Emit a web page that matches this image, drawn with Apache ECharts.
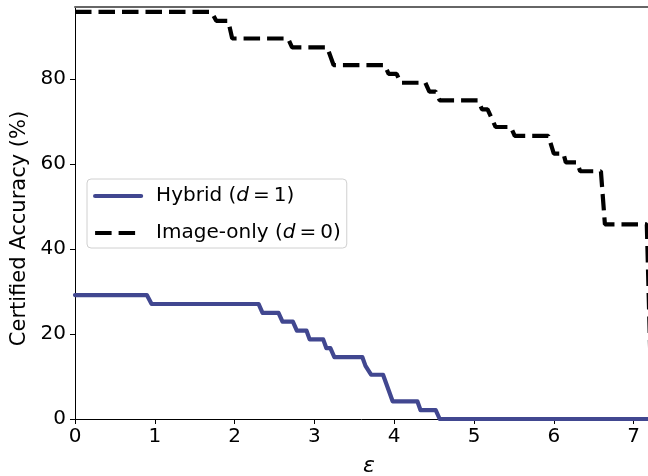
<!DOCTYPE html>
<html>
<head>
<meta charset="utf-8">
<script src="https://cdn.jsdelivr.net/npm/echarts@6/dist/echarts.min.js"></script>
<style>html,body{margin:0;padding:0;background:#fff;}#chart{width:648px;height:476px;}</style>
</head>
<body>
<div id="chart"></div>
<script>
// ---- data ----
const seriesNames = ['Hybrid', 'Image-only'];
const seriesDepth = [1, 0];
const xTicks = [0, 1, 2, 3, 4, 5, 6, 7];
const yTicks = [0, 20, 40, 60, 80];

const hybridEps = [0, 0.90, 0.96, 2.30, 2.35, 2.55, 2.60, 2.73, 2.78, 2.90, 2.94, 3.11, 3.15, 3.20, 3.25, 3.60, 3.64, 3.66, 3.71, 3.86, 3.98, 4.29, 4.33, 4.52, 4.57, 7.40];
const hybridAcc = [29.17, 29.17, 27.08, 27.08, 25.00, 25.00, 22.92, 22.92, 20.83, 20.83, 18.75, 18.75, 16.67, 16.67, 14.58, 14.58, 12.50, 12.50, 10.42, 10.42, 4.17, 4.17, 2.08, 2.08, 0, 0];

const imageEps = [0, 1.71, 1.77, 1.92, 1.97, 2.67, 2.72, 3.16, 3.24, 3.88, 3.93, 4.03, 4.08, 4.39, 4.44, 4.52, 4.57, 5.05, 5.10, 5.17, 5.27, 5.46, 5.51, 5.93, 6.00, 6.12, 6.15, 6.29, 6.33, 6.59, 6.64, 7.165, 7.23];
const imageAcc = [95.83, 95.83, 93.75, 93.75, 89.58, 89.58, 87.50, 87.50, 83.33, 83.33, 81.25, 81.25, 79.17, 79.17, 77.08, 77.08, 75.00, 75.00, 72.92, 72.92, 68.75, 68.75, 66.67, 66.67, 62.50, 62.50, 60.42, 60.42, 58.33, 58.33, 45.83, 45.83, 0];

const xMin = 0, xMax = 7.18, yMin = 0, yMax = 97;
// --------------

const zip = (a, b) => a.map((v, i) => [v, b[i]]);
const FONT = 'DejaVu Sans';
const chart = echarts.init(document.getElementById('chart'), null, {renderer: 'canvas'});
const legendLabel = {};
seriesNames.forEach((n, i) => { legendLabel[n] = n + ' ({i|d}\u2009=\u2009' + seriesDepth[i] + ')'; });

chart.setOption({
  animation: false,
  backgroundColor: '#fff',
  textStyle: {fontFamily: FONT},
  grid: {left: 75, top: 7, right: 0, bottom: 57, outerBoundsMode: 'none', containLabel: false},
  legend: {
    left: 87, top: 179, orient: 'vertical',
    backgroundColor: '#fff',
    borderColor: '#d0d0d0', borderWidth: 1, borderRadius: 4,
    padding: [6, 6, 4, 6],
    itemWidth: 46, itemHeight: 22, itemGap: 15,
    itemStyle: {opacity: 0},
    lineStyle: {width: 4.2},
    formatter: n => legendLabel[n],
    textStyle: {
      fontFamily: FONT, fontSize: 20, color: '#000', lineHeight: 22, padding: [0, 0, 0, 10],
      rich: {i: {fontFamily: FONT, fontStyle: 'italic', fontSize: 20, color: '#000', lineHeight: 22}}
    },
    data: seriesNames
  },
  xAxis: [{
    type: 'value', min: xMin, max: xMax, position: 'bottom',
    name: 'ε', nameLocation: 'middle', nameGap: 36,
    nameTextStyle: {fontFamily: FONT, fontSize: 22, fontStyle: 'italic', color: '#000', padding: [0, 0, 0, 15]},
    axisLine: {show: true, lineStyle: {color: '#000', width: 1}},
    axisTick: {show: true, length: 5, lineStyle: {color: '#000', width: 1}, customValues: xTicks},
    axisLabel: {fontFamily: FONT, fontSize: 20, color: '#000', margin: 8, customValues: xTicks},
    splitLine: {show: false}
  }, {
    type: 'value', min: xMin, max: xMax, position: 'top',
    axisLine: {show: true, lineStyle: {color: '#666', width: 2}},
    axisTick: {show: false}, axisLabel: {show: false}, splitLine: {show: false}
  }],
  yAxis: {
    type: 'value', min: yMin, max: yMax,
    name: 'Certified Accuracy (%)', nameLocation: 'middle', nameGap: 44,
    nameTextStyle: {fontFamily: FONT, fontSize: 21, color: '#000', padding: [0, 31, 0, 0]},
    axisLine: {show: true, lineStyle: {color: '#000', width: 1}},
    axisTick: {show: true, length: 5, lineStyle: {color: '#000', width: 1}, customValues: yTicks},
    axisLabel: {fontFamily: FONT, fontSize: 20, color: '#000', margin: 9, customValues: yTicks},
    splitLine: {show: false}
  },
  series: [{
    name: seriesNames[0], type: 'line', data: zip(hybridEps, hybridAcc),
    symbol: 'none', lineStyle: {color: '#414790', width: 4.2, join: 'round', cap: 'round'},
    itemStyle: {color: '#414790'}, z: 3
  }, {
    name: seriesNames[1], type: 'line', data: zip(imageEps, imageAcc),
    symbol: 'none', lineStyle: {color: '#000', width: 4.2, type: [16.5, 7]},
    itemStyle: {color: '#000'}, z: 4
  }]
});
</script>
</body>
</html>
